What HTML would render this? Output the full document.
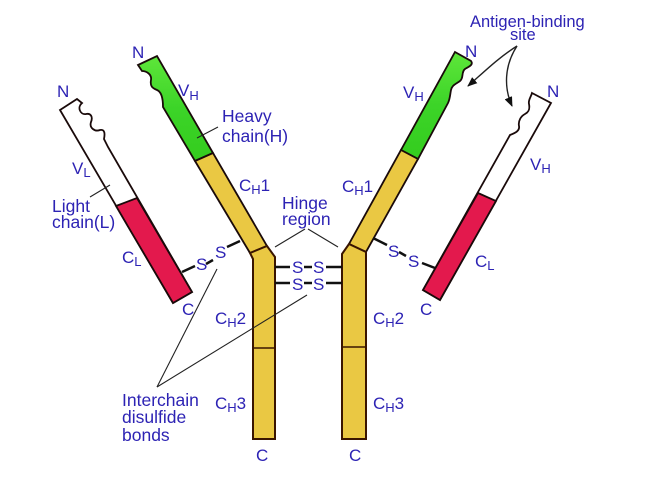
<!DOCTYPE html>
<html>
<head>
<meta charset="utf-8">
<style>
html,body{margin:0;padding:0;background:#fff;}
svg{display:block;}
text{font-family:"Liberation Sans",Arial,sans-serif;fill:#2d23b4;}
</style>
</head>
<body>
<svg width="665" height="478" viewBox="0 0 665 478" xmlns="http://www.w3.org/2000/svg">
<defs>
<marker id="ah" markerWidth="10" markerHeight="10" refX="9" refY="5" orient="auto" markerUnits="userSpaceOnUse">
<path d="M0,1 L10,5 L0,9 Z" fill="#111"/>
</marker>
<linearGradient id="gl" x1="0" y1="0" x2="0" y2="1">
<stop offset="0" stop-color="#5ee63a"/>
<stop offset="0.5" stop-color="#3cd428"/>
<stop offset="1" stop-color="#34cc1e"/>
</linearGradient>
</defs>
<rect width="665" height="478" fill="#fff"/>

<!-- Left light chain -->
<path d="M60,110 L77,99 L82,103 C77,107 80,115 86,114 C91,113 93,117 91,122 C89,128 95,132 100,130 C105,129 105,134 104,139 L108,147 L192,292 L173,303 Z" fill="#fff" stroke="#1a0a0a" stroke-width="1.8"/>
<polygon points="116,206 137,198 192,292 173,303" fill="#e3194d" stroke="#1a0a0a" stroke-width="1.8"/>

<!-- Left heavy chain arm -->
<path d="M138,65 L157,56 L213,153 L195,161 L163,107 C163,100 162,92 157,90 C152,88 150,86 151,80 C152,74 146,71 142,71 Z" fill="url(#gl)" stroke="#1a0a0a" stroke-width="1.8"/>
<polygon points="195,161 213,153 267,246 250,253" fill="#eac843" stroke="#1a0a0a" stroke-width="1.8"/>
<!-- Left stem -->
<polygon points="250,253 267,246 275,257 275,439 253,439 253,259" fill="#eac843" stroke="#3a1500" stroke-width="2"/>
<line x1="253" y1="348" x2="275" y2="348" stroke="#3a1500" stroke-width="1.6"/>

<!-- Right heavy chain arm -->
<path d="M455,52 L471,61 C474,65 468,67 465,69 C461,72 464,78 460,81 C456,84 452,85 451,90 C450,95 450,99 448,103 L418,159 L401,150 Z" fill="url(#gl)" stroke="#1a0a0a" stroke-width="1.8"/>
<polygon points="401,150 418,159 366,252 349,244" fill="#eac843" stroke="#1a0a0a" stroke-width="1.8"/>
<!-- Right stem -->
<polygon points="349,244 366,252 366,439 342,439 342,254" fill="#eac843" stroke="#3a1500" stroke-width="2"/>
<line x1="342" y1="347" x2="366" y2="347" stroke="#3a1500" stroke-width="1.6"/>

<!-- Right light chain -->
<path d="M532,93 L551,103 L440,300 L423,290 L510,135 C515,133 520,131 519,126 C518,121 521,116 525,114 C529,112 530,109 529,104 C528,100 531,97 532,93 Z" fill="#fff" stroke="#1a0a0a" stroke-width="1.8"/>
<polygon points="478,193 496,201 440,300 423,290" fill="#e3194d" stroke="#1a0a0a" stroke-width="1.8"/>

<!-- Disulfide bond lines -->
<g stroke="#111" stroke-width="2.5">
<line x1="182" y1="272" x2="195" y2="266"/>
<line x1="206" y1="264" x2="213" y2="260"/>
<line x1="227" y1="247" x2="240" y2="241"/>
<line x1="275" y1="267" x2="290" y2="267"/>
<line x1="304" y1="267" x2="312" y2="267"/>
<line x1="326" y1="267" x2="342" y2="267"/>
<line x1="275" y1="283" x2="290" y2="283"/>
<line x1="304" y1="283" x2="312" y2="283"/>
<line x1="326" y1="283" x2="342" y2="283"/>
<line x1="373" y1="238" x2="387" y2="245"/>
<line x1="399" y1="252" x2="406" y2="256"/>
<line x1="422" y1="263" x2="435" y2="268"/>
</g>

<!-- Pointer lines -->
<g stroke="#222" stroke-width="1.1" fill="none">
<line x1="90" y1="197" x2="110" y2="185"/>
<line x1="197" y1="138" x2="218" y2="127"/>
<line x1="275" y1="247" x2="305" y2="229"/>
<line x1="308" y1="229" x2="338" y2="247"/>
<line x1="157" y1="387" x2="217" y2="269"/>
<line x1="157" y1="387" x2="307" y2="295"/>
<path d="M517,46 C498,58 484,72 468,86" marker-end="url(#ah)" stroke-width="1.4"/>
<path d="M517,46 C504,66 504,88 512,106" marker-end="url(#ah)" stroke-width="1.4"/>
</g>

<!-- Labels -->
<g font-size="17">
<text x="132" y="58">N</text>
<text x="57" y="97">N</text>
<text x="178" y="96">V<tspan font-size="13" dy="4">H</tspan></text>
<text x="222" y="122" font-size="17.5">Heavy</text>
<text x="222" y="142" font-size="17.5">chain(H)</text>
<text x="239" y="191">C<tspan font-size="13" dy="3">H</tspan><tspan dy="-3">1</tspan></text>
<text x="72" y="174">V<tspan font-size="13" dy="3">L</tspan></text>
<text x="52" y="212" font-size="17.5">Light</text>
<text x="52" y="228" font-size="17.5">chain(L)</text>
<text x="122" y="263">C<tspan font-size="13" dy="3">L</tspan></text>
<text x="182" y="315">C</text>
<text x="196" y="270">S</text>
<text x="215" y="258">S</text>
<text x="282" y="209" font-size="17.5">Hinge</text>
<text x="282" y="225" font-size="17.5">region</text>
<text x="292" y="273">S</text>
<text x="313" y="273">S</text>
<text x="292" y="290">S</text>
<text x="313" y="290">S</text>
<text x="215" y="324">C<tspan font-size="13" dy="3">H</tspan><tspan dy="-3">2</tspan></text>
<text x="373" y="324">C<tspan font-size="13" dy="3">H</tspan><tspan dy="-3">2</tspan></text>
<text x="215" y="409">C<tspan font-size="13" dy="3">H</tspan><tspan dy="-3">3</tspan></text>
<text x="373" y="409">C<tspan font-size="13" dy="3">H</tspan><tspan dy="-3">3</tspan></text>
<text x="256" y="461">C</text>
<text x="349" y="461">C</text>
<text x="122" y="406" font-size="17.5">Interchain</text>
<text x="122" y="423" font-size="17.5">disulfide</text>
<text x="122" y="441" font-size="17.5">bonds</text>

<text x="465" y="57">N</text>
<text x="403" y="98">V<tspan font-size="13" dy="3">H</tspan></text>
<text x="470" y="27" font-size="16.5">Antigen-binding</text>
<text x="510" y="40" font-size="16.5">site</text>
<text x="547" y="97">N</text>
<text x="530" y="170">V<tspan font-size="13" dy="3">H</tspan></text>
<text x="342" y="192">C<tspan font-size="13" dy="3">H</tspan><tspan dy="-3">1</tspan></text>
<text x="475" y="267">C<tspan font-size="13" dy="3">L</tspan></text>
<text x="420" y="315">C</text>
<text x="388" y="257">S</text>
<text x="408" y="267">S</text>
</g>
</svg>
</body>
</html>
